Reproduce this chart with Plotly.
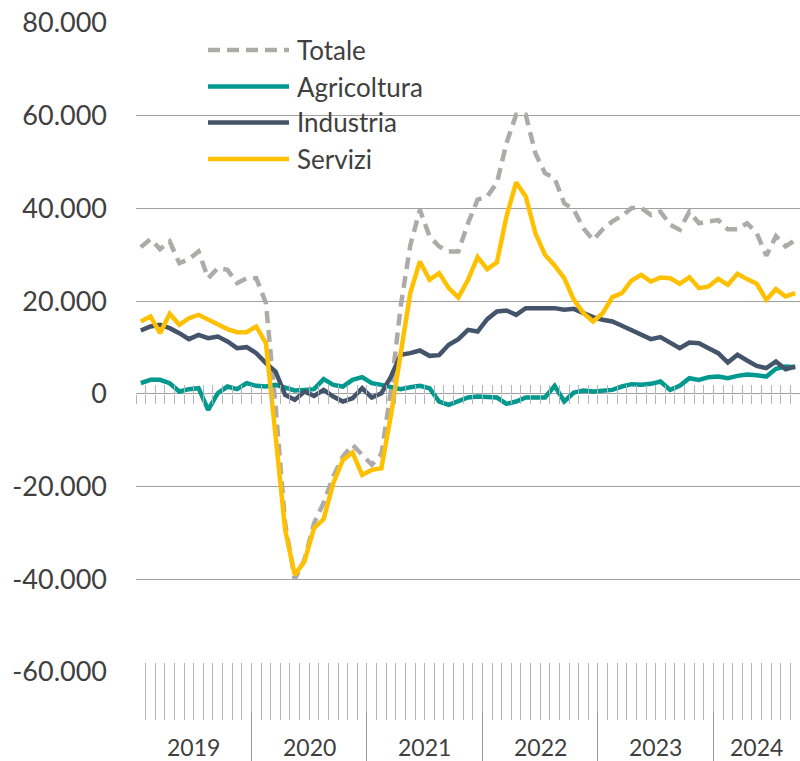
import pandas as pd
import plotly.graph_objects as go

# ---------------- data ----------------
MONTHS = pd.date_range("2019-01-01", periods=69, freq="MS").strftime("%Y-%m").tolist()

TOTALE = [31650, 33380, 31220, 32880, 28200, 29060, 30720, 24960, 27120, 26760, 23880, 24960,
          24960, 19600, -2500, -28000, -40000, -35800, -27900, -23500, -17800, -13500, -11000, -13200,
          -15300, -13000, 800, 18800, 32000, 39700, 34000, 31800, 30700, 30700, 36800, 41900,
          42600, 45500, 54100, 60200, 60200, 51900, 47600, 46500, 41100, 39700, 35700, 33200,
          35500, 37200, 38400, 40100, 40100, 38600, 39300, 36500, 35400, 39300, 36800, 37200,
          37500, 35500, 35500, 36800, 34700, 29800, 34000, 31800, 33200]

AGRICOLTURA = [2300, 3020, 3020, 2300, 500, 1010, 1220, -3450, 140, 1580, 1010, 2300,
               1730, 1580, 1940, 1220, 720, 860, 1010, 3170, 1940, 1580, 3020, 3600,
               2300, 1940, 1580, 1010, 1440, 1730, 1220, -1650, -2370, -1650, -790, -580,
               -790, -790, -2160, -1650, -790, -790, -790, 1730, -1650, 290, 720, 500,
               700, 860, 1580, 2090, 1940, 2160, 2660, 860, 1730, 3380, 3020, 3600,
               3740, 3380, 3880, 4170, 4030, 3740, 5400, 5900, 5760]

INDUSTRIA = [13670, 14530, 14890, 14170, 13090, 11800, 12730, 12010, 12370, 11290, 9860, 10070,
             8780, 6620, 4820, -220, -1290, 500, -430, 860, -580, -1650, -940, 1220,
             -800, 140, 3740, 8420, 8780, 9350, 8200, 8350, 10580, 11800, 13810, 13450,
             16110, 17770, 17990, 17050, 18490, 18490, 18340, 18490, 18130, 18340, 17410, 16550,
             16000, 15610, 14680, 13670, 12730, 11800, 12230, 10940, 9860, 11080, 10940, 9860,
             8780, 6760, 8420, 7190, 6040, 5540, 6980, 5320, 5900]

SERVIZI = [15610, 16690, 13090, 17270, 14890, 16330, 17050, 15970, 14890, 13960, 13310, 13310,
           14530, 10935, -9000, -29350, -39060, -36190, -28990, -27000, -19280, -14240, -12660, -17480,
           -16400, -16040, -4500, 9200, 21730, 28560, 24600, 26040, 22800, 20790, 24600, 29500,
           26900, 28350, 38270, 45610, 42590, 34680, 30000, 27700, 24960, 20290, 17410, 15610,
           17400, 20860, 21730, 24460, 25680, 24240, 25110, 24960, 23740, 25180, 22800, 23170,
           24820, 23520, 25900, 24750, 23740, 20290, 22590, 21010, 21730]

Y_TICKS = [-60000, -40000, -20000, 0, 20000, 40000, 60000, 80000]
Y_LABELS = ["-60.000", "-40.000", "-20.000", "0", "20.000", "40.000", "60.000", "80.000"]

SERIES_NAMES = ["Totale", "Agricoltura", "Industria", "Servizi"]
SERIES_COLORS = ["#AEAAAA", "#00998F", "#44546A", "#FFC000"]
SERIES_DASH = ["12px,7px", "solid", "solid", "solid"]
SERIES_VALUES = [TOTALE, AGRICOLTURA, INDUSTRIA, SERVIZI]

# ---------------- geometry helpers ----------------
W, H = 800, 761
ML, MR, MT, MB = 136, 0, 23, 0
PW, PH = W - ML - MR, H - MT - MB


def fy(py):  # pixel y -> paper fraction
    return (H - MB - py) / PH


def fx(px):  # pixel x -> paper fraction
    return (px - ML) / PW


FONT = "Lato"
TXT = "#404040"
GRID = "#A0A0A0"
TICK = "#B5B5B5"

n = len(MONTHS)
xs = list(range(n))
bounds = [i - 0.5 for i in range(n + 1)]
xr = [bounds[0], bounds[-1]]

years = [m[:4] for m in MONTHS]
YEARS = sorted(set(years))
year_centers = []
year_starts = []
for yv in YEARS:
    idx = [i for i, v in enumerate(years) if v == yv]
    year_centers.append((idx[0] + idx[-1]) / 2)
    year_starts.append(idx[0] - 0.5)

fig = go.Figure()

for name, vals, col, dash in zip(SERIES_NAMES, SERIES_VALUES, SERIES_COLORS, SERIES_DASH):
    fig.add_trace(go.Scatter(x=xs, y=vals, name=name, mode="lines",
                             line=dict(color=col, width=4.5, dash=dash),
                             showlegend=False, xaxis="x", yaxis="y"))

# invisible helper traces so that helper axes get drawn
for ax in ["x2", "x3", "x4"]:
    fig.add_trace(go.Scatter(x=xr, y=[0, 0], mode="lines", line=dict(width=0),
                             opacity=0, showlegend=False, hoverinfo="skip",
                             xaxis=ax, yaxis="y"))

common_x = dict(range=xr, showgrid=False, zeroline=False, showline=False,
                showticklabels=False, anchor="free", domain=[0, 1], fixedrange=True,
                automargin=False)

fig.update_layout(
    width=W, height=H,
    margin=dict(l=ML, r=MR, t=MT, b=MB, autoexpand=False),
    paper_bgcolor="white", plot_bgcolor="white",
    showlegend=False,
    xaxis=dict(**common_x, position=fy(394), ticks="outside", ticklen=9,
               tickwidth=1.2, tickcolor=TICK, tickmode="array", tickvals=bounds),
    xaxis2=dict(**common_x, overlaying="x", position=fy(394), ticks="inside", ticklen=9,
                tickwidth=1.2, tickcolor=TICK, tickmode="array", tickvals=bounds),
    xaxis3=dict(**common_x, overlaying="x", position=fy(720), ticks="inside", ticklen=57,
                tickwidth=1.2, tickcolor=TICK, tickmode="array", tickvals=bounds),
    xaxis4=dict(**common_x, overlaying="x", position=0, ticks="inside", ticklen=49,
                tickwidth=1.3, tickcolor="#9A9A9A", tickmode="array", tickvals=year_starts),
    yaxis=dict(domain=[fy(672), 1], range=[Y_TICKS[0], Y_TICKS[-1]],
               tickmode="array", tickvals=Y_TICKS, ticktext=Y_LABELS,
               showgrid=True, gridcolor=GRID, gridwidth=1.2,
               zeroline=False, showline=False, ticks="",
               ticklabelstandoff=28, automargin=False,
               tickfont=dict(family=FONT, size=27, color=TXT), fixedrange=True),
)

# year labels
for yc, yv in zip(year_centers, YEARS):
    fig.add_annotation(x=yc, xref="x", y=fy(747), yref="paper", text=yv,
                       showarrow=False, xanchor="center", yanchor="middle",
                       font=dict(family=FONT, size=23, color=TXT))

# custom legend (white box, sample lines, labels)
fig.add_shape(type="rect", xref="paper", yref="paper",
              x0=fx(187), x1=fx(439), y0=fy(200), y1=fy(28),
              fillcolor="white", line=dict(width=0), layer="between")
LEG_ROWS = [50, 86.5, 122.5, 159]
for name, col, dash, ry in zip(SERIES_NAMES, SERIES_COLORS, SERIES_DASH, LEG_ROWS):
    fig.add_shape(type="line", xref="paper", yref="paper",
                  x0=fx(208), x1=fx(289), y0=fy(ry), y1=fy(ry),
                  line=dict(color=col, width=4.5, dash=dash), layer="above")
    fig.add_annotation(x=fx(295), xref="paper", y=fy(ry), yref="paper", text=name,
                       showarrow=False, xanchor="left", yanchor="middle",
                       font=dict(family=FONT, size=26, color=TXT))

fig.write_html(
    "out.html",
    config={"displayModeBar": False},
    post_script="document.body.style.margin='0';document.body.style.overflow='hidden';",
)
